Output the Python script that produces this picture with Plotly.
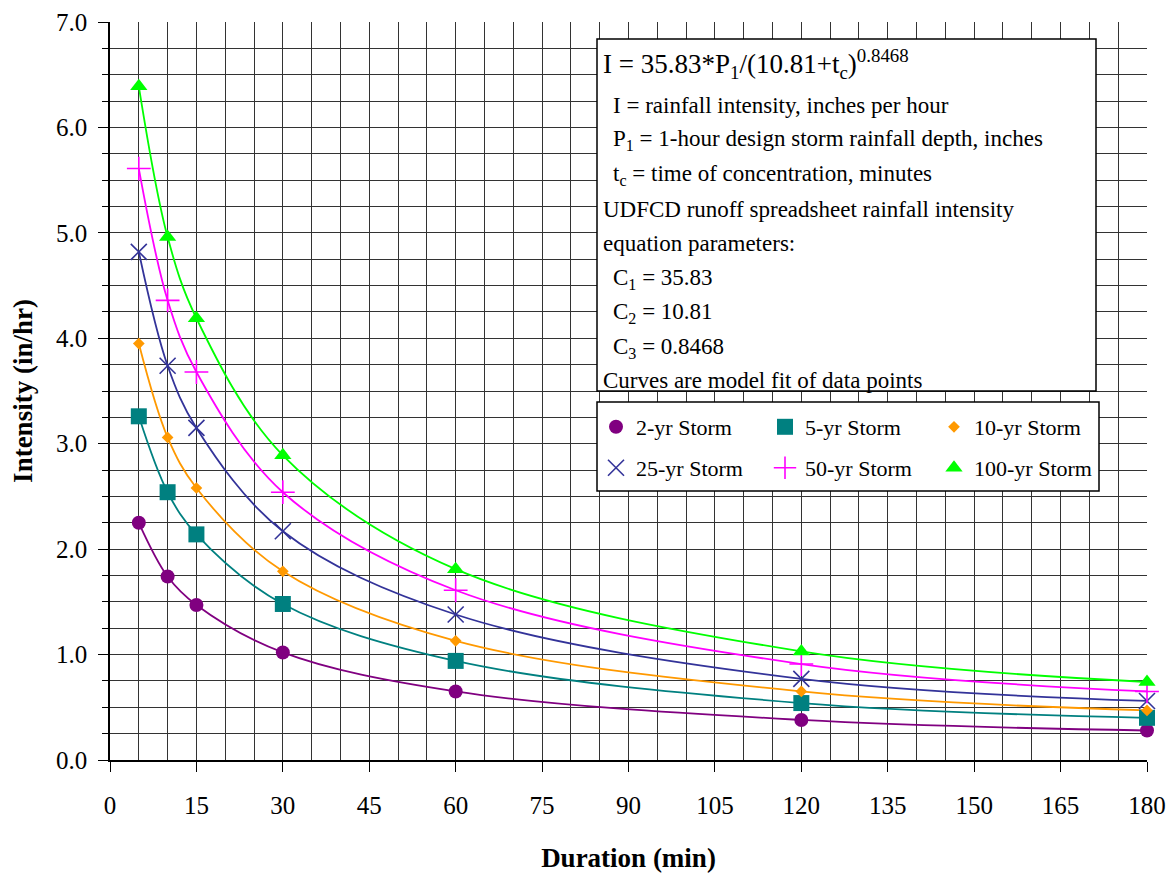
import plotly.graph_objects as go

# ---------------- data ----------------
durations = [5, 10, 15, 30, 60, 120, 180]
storm_names = ["2-yr Storm", "5-yr Storm", "10-yr Storm", "25-yr Storm", "50-yr Storm", "100-yr Storm"]
i_2yr   = [2.25, 1.74, 1.47, 1.02, 0.65, 0.38, 0.28]
i_5yr   = [3.26, 2.54, 2.14, 1.48, 0.94, 0.54, 0.40]
i_10yr  = [3.95, 3.06, 2.58, 1.79, 1.13, 0.65, 0.47]
i_25yr  = [4.82, 3.74, 3.15, 2.17, 1.38, 0.77, 0.56]
i_50yr  = [5.61, 4.36, 3.68, 2.54, 1.61, 0.91, 0.65]
i_100yr = [6.39, 4.96, 4.19, 2.89, 1.81, 1.03, 0.74]
x_ticks = [0, 15, 30, 45, 60, 75, 90, 105, 120, 135, 150, 165, 180]
y_ticks = [0, 1, 2, 3, 4, 5, 6, 7]

series = [i_2yr, i_5yr, i_10yr, i_25yr, i_50yr, i_100yr]
colors = ["#800080", "#008080", "#FF9900", "#333399", "#FF00FF", "#00FF00"]
symbols = ["circle", "square", "diamond", "x-thin", "cross-thin", "triangle-up"]
sizes = [14, 16, 9, 16, 17, 15]

FONT = "Liberation Serif"
OFF = 8  # page body margin
W, H = 1174 - OFF, 873 - OFF
# plot area in window pixels: left 110, right 1147, top 22, bottom 760
ML, MT = 110 - OFF, 22 - OFF
MR = W - (1147 - OFF)
MB = H - (760 - OFF)
PW, PH = W - ML - MR, H - MT - MB


def px(xp):
    return (xp - OFF - ML) / PW


def py(yp):
    return (H - MB - (yp - OFF)) / PH


fig = go.Figure()

# fitted curves (smooth lines through the data points)
for vals, c in zip(series, colors):
    fig.add_trace(go.Scatter(x=durations, y=vals, mode="lines", line=dict(color=c, width=1.8, shape="spline"),
                             showlegend=False, hoverinfo="skip"))

# data points
for k, (name, vals, c, s, sz) in enumerate(zip(storm_names, series, colors, symbols, sizes)):
    marker = dict(color=c, symbol=s, size=sz)
    if s in ("x-thin", "cross-thin"):
        marker["line"] = dict(color=c, width=1.6)
    fig.add_trace(go.Scatter(x=durations, y=vals, mode="markers", name=name, marker=marker,
                             cliponaxis=False, legend="legend" if k < 3 else "legend2"))

grid_col = "#333333"
fig.update_xaxes(range=[0, 180], tickmode="array", tickvals=x_ticks, ticktext=[str(v) for v in x_ticks],
                 showgrid=True, gridcolor=grid_col, gridwidth=1,
                 minor=dict(dtick=5, showgrid=True, gridcolor=grid_col, gridwidth=1, ticks=""),
                 ticks="outside", ticklen=10, tickcolor="black", tickwidth=1, ticklabelstandoff=12,
                 showline=True, linecolor="black", linewidth=1.5, zeroline=False,
                 tickfont=dict(family=FONT, size=25, color="black"),
                 title=dict(text="<b>Duration (min)</b>", font=dict(family=FONT, size=27, color="black"), standoff=40),
                 automargin=False)
fig.update_yaxes(range=[0, 7], tickmode="array", tickvals=y_ticks, ticktext=["%.1f" % v for v in y_ticks],
                 showgrid=True, gridcolor=grid_col, gridwidth=1,
                 minor=dict(dtick=0.25, showgrid=True, gridcolor=grid_col, gridwidth=1, ticks="outside", ticklen=6,
                            tickcolor="black"),
                 ticks="outside", ticklen=10, tickcolor="black", tickwidth=1, ticklabelstandoff=6,
                 showline=True, linecolor="black", linewidth=1.5, zeroline=False,
                 tickfont=dict(family=FONT, size=25, color="black"),
                 title=dict(text="<b>Intensity (in/hr)</b>", font=dict(family=FONT, size=27, color="black"), standoff=22),
                 automargin=False)

# equation box
fig.add_shape(type="rect", xref="paper", yref="paper", x0=px(597), x1=px(1096), y0=py(39), y1=py(391),
              fillcolor="white", line=dict(color="black", width=1.5), layer="above")
# legend box
fig.add_shape(type="rect", xref="paper", yref="paper", x0=px(597), x1=px(1099), y0=py(402), y1=py(491),
              fillcolor="white", line=dict(color="black", width=1.5), layer="above")

lines = [
    ("I = 35.83*P<sub>1</sub>/(10.81+t<sub>c</sub>)<sup>0.8468</sup>", 601, 64, 27),
    ("I = rainfall intensity, inches per hour", 611, 106, 23),
    ("P<sub>1</sub> = 1-hour design storm rainfall depth, inches", 611, 140.5, 23),
    ("t<sub>c</sub> = time of concentration, minutes", 611, 175, 23),
    ("UDFCD runoff spreadsheet rainfall intensity", 601, 209.5, 23),
    ("equation parameters:", 601, 244, 23),
    ("C<sub>1</sub> = 35.83", 611, 278.5, 23),
    ("C<sub>2</sub> = 10.81", 611, 313, 23),
    ("C<sub>3</sub> = 0.8468", 611, 347.5, 23),
    ("Curves are model fit of data points", 601, 380, 23),
]
for txt, xp, yp, fs in lines:
    fig.add_annotation(text=txt, xref="paper", yref="paper", x=px(xp), y=py(yp), xanchor="left", yanchor="middle",
                       showarrow=False, font=dict(family=FONT, size=fs, color="black"))

leg_common = dict(orientation="h", xanchor="left", yanchor="middle", bgcolor="rgba(0,0,0,0)", borderwidth=0,
                  font=dict(family=FONT, size=22, color="black"), entrywidth=124, itemwidth=30, tracegroupgap=0)
fig.update_layout(
    width=W, height=H,
    margin=dict(l=ML, r=MR, t=MT, b=MB),
    paper_bgcolor="white", plot_bgcolor="white",
    font=dict(family=FONT, color="black"),
    legend=dict(x=px(596), y=py(427), **leg_common),
    legend2=dict(x=px(596), y=py(468), **leg_common),
    showlegend=True,
)

fig.write_html("out.html")
